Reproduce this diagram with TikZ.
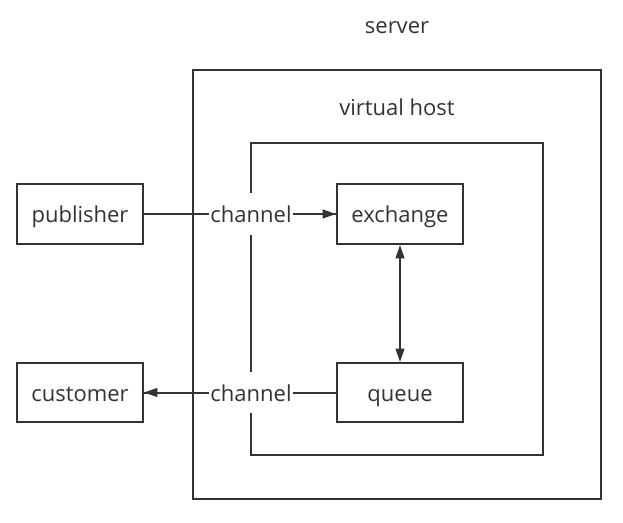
\documentclass[tikz,border=0pt]{standalone}
\usepackage{fontspec}
\setmainfont{Open Sans}
\usetikzlibrary{arrows.meta}
\definecolor{ink}{HTML}{333333}
\begin{document}
\begin{tikzpicture}[x=0.75pt,y=-0.75pt,
  box/.style={draw=ink,line width=1.5pt,inner sep=0pt},
  lbl/.style={text=ink,font=\fontsize{16.5}{18}\selectfont,inner sep=1pt,text height=16.5pt,text depth=3.5pt},
  chan/.style={lbl,fill=white,inner ysep=5.5pt},
  tip/.style={-{Triangle[length=10pt,width=6.5pt]}},
  conn/.style={draw=ink,line width=1.5pt,tip},
  plain/.style={draw=ink,line width=1.5pt}]
\useasboundingbox (0,0) rectangle (623,523);
\node[box,minimum width=408*0.75pt,minimum height=429*0.75pt] (server) at (397,284.5) {};
\node[lbl] (serverlbl) at (397,25) {server};
\node[box,minimum width=292*0.75pt,minimum height=312*0.75pt] (vhost) at (397,299) {};
\node[lbl] (vhostlbl) at (397,107) {virtual host};
\node[box,lbl,draw=ink,line width=1.5pt,minimum width=126*0.75pt,minimum height=60*0.75pt] (pub) at (80,214) {publisher};
\node[box,lbl,draw=ink,line width=1.5pt,minimum width=126*0.75pt,minimum height=60*0.75pt] (ex) at (400,214) {exchange};
\node[box,lbl,draw=ink,line width=1.5pt,minimum width=126*0.75pt,minimum height=59*0.75pt] (cust) at (80,392.5) {customer};
\node[box,lbl,draw=ink,line width=1.5pt,minimum width=126*0.75pt,minimum height=59*0.75pt] (queue) at (400,392.5) {queue};
\draw[plain] (pub.east) -- (ex.west);
\draw[conn] (300,214) -- (ex.west);
\draw[plain] (queue.west) -- (cust.east);
\draw[conn] (200,392.5) -- (cust.east);
\draw[draw=ink,line width=1.5pt,{Triangle[length=10pt,width=6.5pt]}-{Triangle[length=10pt,width=6.5pt]}] (ex.south) -- (queue.north);
\node[chan] (ch1) at (251,214) {channel};
\node[chan] (ch2) at (251,392.5) {channel};
\end{tikzpicture}
\end{document}
